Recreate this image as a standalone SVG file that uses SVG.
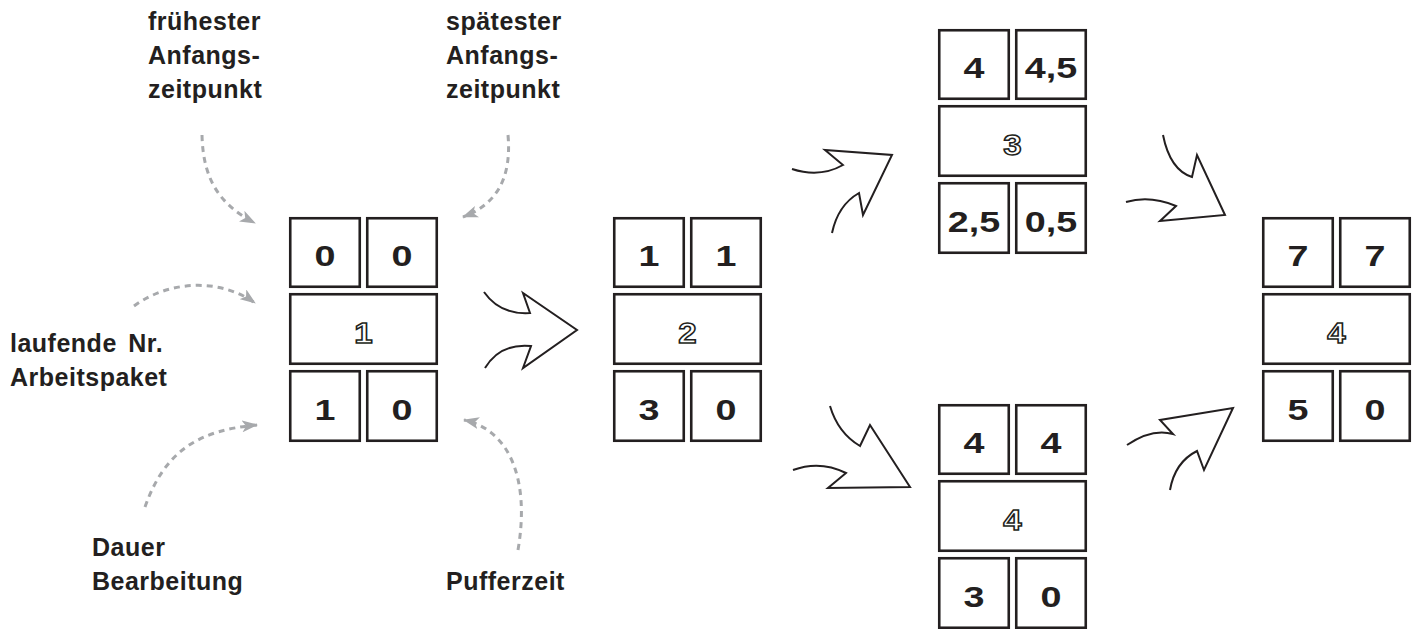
<svg xmlns="http://www.w3.org/2000/svg" width="1418" height="629" viewBox="0 0 1418 629">
<style>
.box{fill:#fff;stroke:#231f20;stroke-width:2.6}
.num{font-family:"Liberation Sans",Arial,sans-serif;font-weight:bold;font-size:29px;fill:#231f20;text-anchor:middle}
.id{font-family:"Liberation Sans",Arial,sans-serif;font-weight:bold;font-size:30px;fill:#fff;stroke:#231f20;stroke-width:1.5;text-anchor:middle}
.lbl{font-family:"Liberation Sans",Arial,sans-serif;font-weight:bold;font-size:25px;fill:#231f20;letter-spacing:0.5px}
.big{fill:none;stroke:#231f20;stroke-width:2;stroke-linejoin:miter}
.dash{fill:none;stroke:#a7a9ac;stroke-width:3;stroke-dasharray:6 5}
</style>
<defs>
<marker id="ah" viewBox="0 0 16 12" refX="15" refY="6" markerWidth="16" markerHeight="12" markerUnits="userSpaceOnUse" orient="auto">
<path d="M0,0 L16,6 L0,12 L4,6 z" fill="#a7a9ac"/>
</marker>
<g id="tpl">
<rect class="box" x="1.25" y="1.25" width="69.5" height="68.5"/>
<rect class="box" x="78.25" y="1.25" width="69.5" height="68.5"/>
<rect class="box" x="1.25" y="77.25" width="146.5" height="69.5"/>
<rect class="box" x="1.25" y="154.25" width="69.5" height="69.5"/>
<rect class="box" x="78.25" y="154.25" width="69.5" height="69.5"/>
</g>
</defs>
<rect width="1418" height="629" fill="#fff"/>

<g id="labels">
<text class="lbl" x="148" y="30">frühester</text>
<text class="lbl" x="148" y="64">Anfangs-</text>
<text class="lbl" x="148" y="98">zeitpunkt</text>
<text class="lbl" x="446" y="30">spätester</text>
<text class="lbl" x="446" y="64">Anfangs-</text>
<text class="lbl" x="446" y="98">zeitpunkt</text>
<text class="lbl" x="10" y="352" word-spacing="4">laufende Nr.</text>
<text class="lbl" x="10" y="386">Arbeitspaket</text>
<text class="lbl" x="92" y="556">Dauer</text>
<text class="lbl" x="92" y="590">Bearbeitung</text>
<text class="lbl" x="446" y="590">Pufferzeit</text>
</g>

<g id="node1" transform="translate(289,217)">
<use href="#tpl"/>
<text class="num" transform="translate(36,49) scale(1.3,1)">0</text>
<text class="num" transform="translate(113,49) scale(1.3,1)">0</text>
<text class="id" transform="translate(74.5,126) scale(1.1,1)">1</text>
<text class="num" transform="translate(36,203) scale(1.3,1)">1</text>
<text class="num" transform="translate(113,203) scale(1.3,1)">0</text>
</g>

<g id="node2" transform="translate(613,217)">
<use href="#tpl"/>
<text class="num" transform="translate(36,49) scale(1.3,1)">1</text>
<text class="num" transform="translate(113,49) scale(1.3,1)">1</text>
<text class="id" transform="translate(74.5,126) scale(1.1,1)">2</text>
<text class="num" transform="translate(36,203) scale(1.3,1)">3</text>
<text class="num" transform="translate(113,203) scale(1.3,1)">0</text>
</g>

<g id="node3" transform="translate(938,29)">
<use href="#tpl"/>
<text class="num" transform="translate(36,49) scale(1.3,1)">4</text>
<text class="num" transform="translate(113,49) scale(1.3,1)">4,5</text>
<text class="id" transform="translate(74.5,126) scale(1.1,1)">3</text>
<text class="num" transform="translate(36,203) scale(1.3,1)">2,5</text>
<text class="num" transform="translate(113,203) scale(1.3,1)">0,5</text>
</g>

<g id="node4" transform="translate(938,404)">
<use href="#tpl"/>
<text class="num" transform="translate(36,49) scale(1.3,1)">4</text>
<text class="num" transform="translate(113,49) scale(1.3,1)">4</text>
<text class="id" transform="translate(74.5,126) scale(1.1,1)">4</text>
<text class="num" transform="translate(36,203) scale(1.3,1)">3</text>
<text class="num" transform="translate(113,203) scale(1.3,1)">0</text>
</g>

<g id="node5" transform="translate(1262,217)">
<use href="#tpl"/>
<text class="num" transform="translate(36,49) scale(1.3,1)">7</text>
<text class="num" transform="translate(113,49) scale(1.3,1)">7</text>
<text class="id" transform="translate(74.5,126) scale(1.1,1)">4</text>
<text class="num" transform="translate(36,203) scale(1.3,1)">5</text>
<text class="num" transform="translate(113,203) scale(1.3,1)">0</text>
</g>

<g id="connectors">
<path class="dash" marker-end="url(#ah)" d="M202,135 C203,180 220,205 255,223"/>
<path class="dash" marker-end="url(#ah)" d="M508,135 C512,180 495,205 463,217"/>
<path class="dash" marker-end="url(#ah)" d="M134,306 C170,280 220,278 255,303"/>
<path class="dash" marker-end="url(#ah)" d="M145,507 C165,450 200,430 257,425"/>
<path class="dash" marker-end="url(#ah)" d="M518,550 C530,480 510,430 464,420"/>

<path class="big" d="M484,292 Q500,315 530,313 L523,293 L577,330 L523,368 L531,346 Q500,343 485,368"/>
<path class="big" d="M792,169 Q820,178 843,165 L825,150 L892,155 L863,215 L859,193 Q838,205 832,233"/>
<path class="big" d="M830,406 Q838,433 860,446 L870,425 L910,487 L828,488 L846,473 Q820,460 793,470"/>
<path class="big" d="M1163,135 Q1170,170 1192,177 L1197,155 L1225,215 L1160,221 L1176,206 Q1150,195 1126,202"/>
<path class="big" d="M1127,445 Q1152,428 1173,434 L1160,420 L1233,408 L1204,470 L1197,451 Q1175,462 1170,490"/>
</g>
</svg>
